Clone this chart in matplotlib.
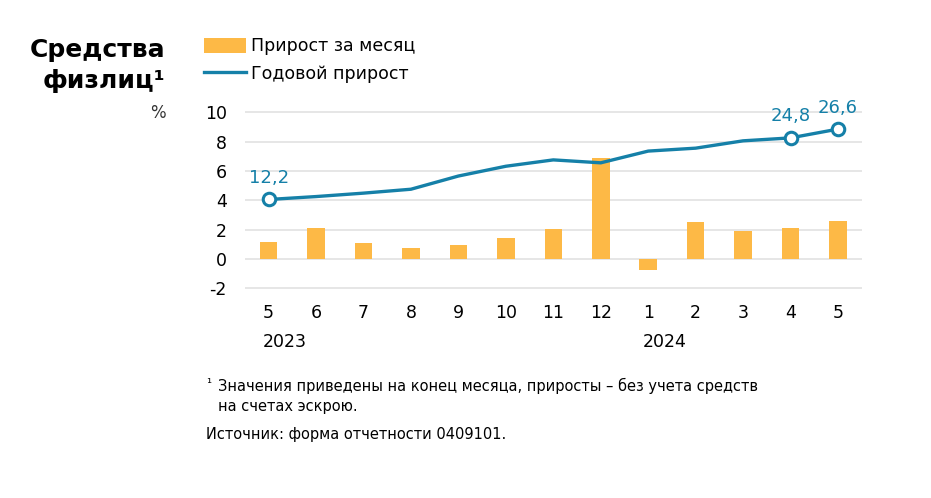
import numpy as np
from matplotlib import pyplot as plt

# months May 2023 .. May 2024
months = ["5", "6", "7", "8", "9", "10", "11", "12", "1", "2", "3", "4", "5"]
years = ["2023", "2024"]
year_pos = [0, 8]
# monthly growth, %
monthly = [1.15, 2.1, 1.1, 0.75, 0.98, 1.44, 2.05, 6.9, -0.73, 2.5, 1.92, 2.12, 2.6]
# annual growth, % (drawn at 1/3 scale, as in the original)
annual = [12.2, 12.8, 13.5, 14.3, 17.0, 19.0, 20.3, 19.7, 22.1, 22.7, 24.2, 24.8, 26.6]
marked = [0, 11, 12]

bar_color = "#FDB946"
line_color = "#1580A8"

plt.rcParams['font.family'] = ['DejaVu Sans']

fig = plt.figure(figsize=(9.31, 4.98), dpi=100)
ax = fig.add_axes([0.263, 0.406, 0.6626, 0.377])

x = np.arange(len(months))
scaled = np.array(annual) / 3

bars = ax.bar(x, monthly, width=0.37, color=bar_color, zorder=2, label="Прирост за месяц")
line, = ax.plot(x, scaled, color=line_color, lw=2.4, zorder=3, label="Годовой прирост")
ax.plot(x[marked], scaled[marked], 'o', ms=9, mfc='white', mec=line_color, mew=2.2, zorder=4)
for i in marked:
    ax.annotate(f"{annual[i]:.1f}".replace(".", ","), (x[i], scaled[i]), xytext=(0, 9),
                textcoords="offset points", ha="center", va="bottom",
                color=line_color, fontsize=13)

ax.set_xlim(-0.5, 12.5)
ax.set_ylim(-2.5, 10.3)
ax.set_yticks(range(-2, 11, 2))
ax.set_yticklabels([str(v) for v in range(-2, 11, 2)])
ax.set_xticks(x)
ax.set_xticklabels(months)
ax.grid(axis="y", color="#E2E2E2", lw=1.2, zorder=0)
for s in ax.spines.values():
    s.set_visible(False)
ax.tick_params(axis="both", length=0, labelsize=12.5)
ax.tick_params(axis="x", pad=6)
ax.tick_params(axis="y", pad=13)

for yr, p in zip(years, year_pos):
    ax.text(p - 0.12, -0.245, yr, transform=ax.get_xaxis_transform(),
            ha="left", va="center", fontsize=12.5)

fig.legend(handles=[bars, line], loc="upper left", bbox_to_anchor=(0.219, 0.925),
           frameon=False, fontsize=12.5, handlelength=2.4, handleheight=0.9,
           handletextpad=0.3, labelspacing=0.55, borderpad=0, borderaxespad=0)

fig.text(0.178, 0.9, "Средства", ha="right", va="center", fontsize=18, fontweight="bold")
fig.text(0.178, 0.838, "физлиц¹", ha="right", va="center", fontsize=18, fontweight="bold")
fig.text(0.178, 0.773, "%", ha="right", va="center", fontsize=12, color="#333333")

fig.text(0.221, 0.23, "¹", ha="left", va="center", fontsize=9)
fig.text(0.234, 0.226, "Значения приведены на конец месяца, приросты – без учета средств",
         ha="left", va="center", fontsize=10.5)
fig.text(0.234, 0.183, "на счетах эскрою.", ha="left", va="center", fontsize=10.5)
fig.text(0.221, 0.128, "Источник: форма отчетности 0409101.", ha="left", va="center", fontsize=10.5)

fig.savefig("out.png", dpi=100)
